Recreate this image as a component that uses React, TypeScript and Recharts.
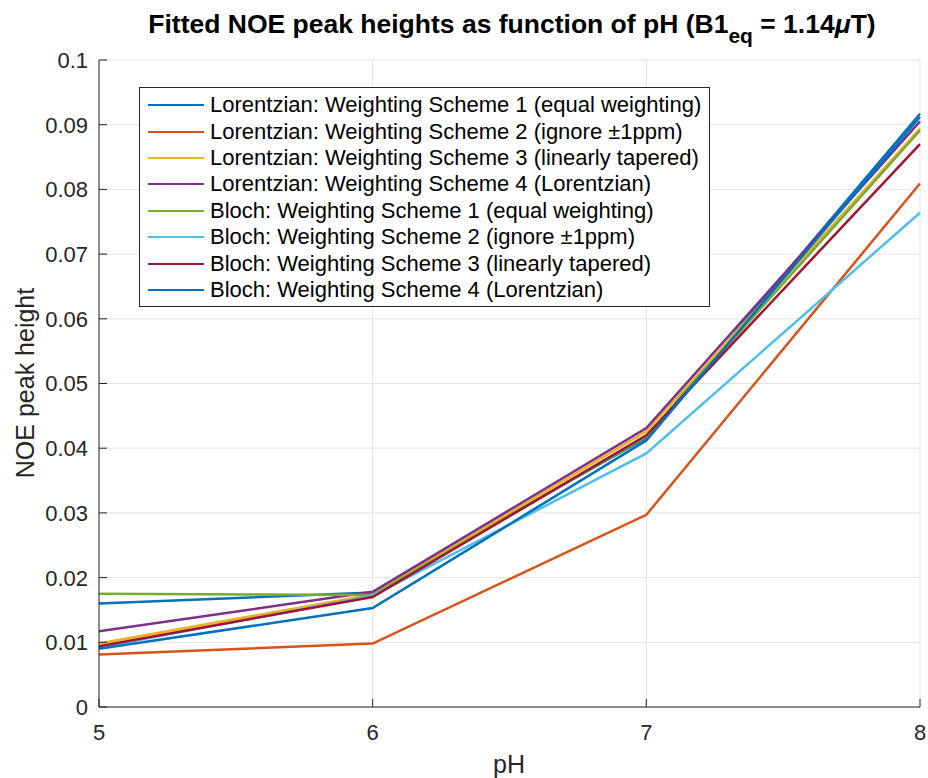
import { LineChart, Line, XAxis, YAxis, CartesianGrid, Legend } from 'recharts';

// pH values where the peak heights were fitted
const PH = [5, 6, 7, 8];

// fitted NOE peak heights, one array per fit model / weighting scheme
const lorentzian1 = [0.016, 0.0177, 0.0416, 0.0917];
const lorentzian2 = [0.0081, 0.0098, 0.0297, 0.0809];
const lorentzian3 = [0.0098, 0.0174, 0.0426, 0.0894];
const lorentzian4 = [0.0117, 0.0178, 0.0431, 0.0905];
const bloch1 = [0.0175, 0.0173, 0.0418, 0.0891];
const bloch2 = [0.0092, 0.0172, 0.0392, 0.0764];
const bloch3 = [0.0094, 0.017, 0.042, 0.087];
const bloch4 = [0.009, 0.0153, 0.0412, 0.0912];

const X_TICKS = [5, 6, 7, 8];
const Y_TICKS = [0, 0.01, 0.02, 0.03, 0.04, 0.05, 0.06, 0.07, 0.08, 0.09, 0.1];
const Y_TICK_LABELS = ['0', '0.01', '0.02', '0.03', '0.04', '0.05', '0.06', '0.07', '0.08', '0.09', '0.1'];

const SERIES = [
  { key: 'l1', name: 'Lorentzian: Weighting Scheme 1 (equal weighting)', values: lorentzian1, color: '#0072BD' },
  { key: 'l2', name: 'Lorentzian: Weighting Scheme 2 (ignore \u00b11ppm)', values: lorentzian2, color: '#D95319' },
  { key: 'l3', name: 'Lorentzian: Weighting Scheme 3 (linearly tapered)', values: lorentzian3, color: '#EDB120' },
  { key: 'l4', name: 'Lorentzian: Weighting Scheme 4 (Lorentzian)', values: lorentzian4, color: '#7E2F8E' },
  { key: 'b1', name: 'Bloch: Weighting Scheme 1 (equal weighting)', values: bloch1, color: '#77AC30' },
  { key: 'b2', name: 'Bloch: Weighting Scheme 2 (ignore \u00b11ppm)', values: bloch2, color: '#4DBEEE' },
  { key: 'b3', name: 'Bloch: Weighting Scheme 3 (linearly tapered)', values: bloch3, color: '#A2142F' },
  { key: 'b4', name: 'Bloch: Weighting Scheme 4 (Lorentzian)', values: bloch4, color: '#0072BD' },
];

const data = PH.map((ph, i) => {
  const row: Record<string, number> = { ph };
  SERIES.forEach(s => { row[s.key] = s.values[i]; });
  return row;
});

const FONT = '"Liberation Sans", Arial, Helvetica, sans-serif';
const AXIS = '#262626';
const TICK_LEN = 8;

const yLabel = (v: number) => Y_TICK_LABELS[Y_TICKS.indexOf(v)] ?? String(v);

// MATLAB-style ticks: marks point into the plot box
const BottomTick = ({ x, y, payload }: any) => (
  <g>
    <line x1={x} x2={x} y1={y} y2={y - TICK_LEN} stroke={AXIS} />
    <text x={x} y={y + 33} textAnchor="middle" fontSize={22} fontFamily={FONT} fill={AXIS}>
      {payload.value}
    </text>
  </g>
);

const TopTick = ({ x, y }: any) => (
  <line x1={x} x2={x} y1={y} y2={y + TICK_LEN} stroke={AXIS} />
);

const LeftTick = ({ x, y, payload }: any) => (
  <g>
    <line x1={x} x2={x + TICK_LEN} y1={y} y2={y} stroke={AXIS} />
    <text x={x - 11} y={y} dy="0.36em" textAnchor="end" fontSize={22} fontFamily={FONT} fill={AXIS}>
      {yLabel(payload.value)}
    </text>
  </g>
);

const RightTick = ({ x, y }: any) => (
  <line x1={x} x2={x - TICK_LEN} y1={y} y2={y} stroke={AXIS} />
);

const LegendBox = () => (
  <div
    style={{
      border: `1px solid ${AXIS}`,
      background: '#fff',
      padding: '4px 8px 3px 8px',
      fontFamily: FONT,
      fontSize: 22,
      color: '#000',
    }}
  >
    {SERIES.map(s => (
      <div key={s.key} style={{ display: 'flex', alignItems: 'center', height: 26.4, whiteSpace: 'nowrap' }}>
        <svg width={56} height={4} style={{ marginRight: 6 }}>
          <line x1={0} x2={56} y1={2} y2={2} stroke={s.color} strokeWidth={2} />
        </svg>
        <span>{s.name}</span>
      </div>
    ))}
  </div>
);

export default function App() {
  return (
    <div style={{ position: 'absolute', left: 0, top: 0 }}>
      <LineChart
        width={928}
        height={778}
        data={data}
        margin={{ top: 60, right: 8, bottom: 0, left: 0 }}
        style={{ background: '#fff' }}
      >
        <CartesianGrid stroke="#e3e3e3" vertical horizontal />
        <XAxis
          dataKey="ph"
          type="number"
          domain={[5, 8]}
          ticks={X_TICKS}
          height={71}
          tickSize={0}
          tickMargin={0}
          tickLine={false}
          axisLine={{ stroke: AXIS }}
          tick={<BottomTick />}
        />
        <XAxis
          xAxisId="top"
          orientation="top"
          dataKey="ph"
          type="number"
          domain={[5, 8]}
          ticks={X_TICKS}
          height={0}
          tickSize={0}
          tickMargin={0}
          tickLine={false}
          axisLine={{ stroke: AXIS }}
          tick={<TopTick />}
        />
        <YAxis
          type="number"
          domain={[0, 0.1]}
          ticks={Y_TICKS}
          width={99}
          tickSize={0}
          tickMargin={0}
          tickLine={false}
          axisLine={{ stroke: AXIS }}
          tick={<LeftTick />}
        />
        <YAxis
          yAxisId="right"
          orientation="right"
          type="number"
          domain={[0, 0.1]}
          ticks={Y_TICKS}
          width={0}
          tickSize={0}
          tickMargin={0}
          tickLine={false}
          axisLine={{ stroke: AXIS }}
          tick={<RightTick />}
        />
        <Legend
          layout="vertical"
          align="center"
          verticalAlign="middle"
          wrapperStyle={{ left: 139, top: 87, width: 'auto' }}
          content={<LegendBox />}
        />
        {SERIES.map(s => (
          <Line
            key={s.key}
            type="linear"
            dataKey={s.key}
            name={s.name}
            stroke={s.color}
            strokeWidth={2.5}
            dot={false}
            activeDot={false}
            isAnimationActive={false}
          />
        ))}
        <text x={512} y={33} textAnchor="middle" fontFamily={FONT} fontWeight="bold" fontSize={26.5} fill="#000">
          Fitted NOE peak heights as function of pH (B1
          <tspan fontSize={21} dy={10}>eq</tspan>
          <tspan dy={-10}> = 1.14</tspan>
          <tspan fontStyle="italic">{'\u03bc'}</tspan>
          T)
        </text>
        <text x={509} y={773} textAnchor="middle" fontFamily={FONT} fontSize={25} fill={AXIS}>
          pH
        </text>
        <text
          x={0}
          y={0}
          transform="translate(34 383) rotate(-90)"
          textAnchor="middle"
          fontFamily={FONT}
          fontSize={25}
          fill={AXIS}
        >
          NOE peak height
        </text>
      </LineChart>
    </div>
  );
}
